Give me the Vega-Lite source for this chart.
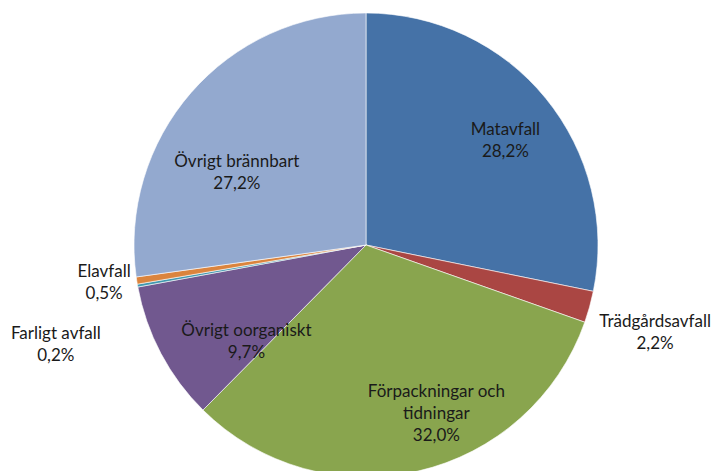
{
  "$schema": "https://vega.github.io/schema/vega-lite/v6.json",
  "width": 732,
  "height": 490,
  "autosize": {"type": "none"},
  "padding": 0,
  "background": "white",
  "config": {"view": {"stroke": null}, "text": {"font": "Lato", "fontSize": 17, "color": "#1a1a1a", "lineHeight": 22, "lineBreak": "\n"}},
  "data": {
    "values": [
      {"nr": 1, "kategori": "Matavfall", "andel": 28.2, "etikett": "Matavfall\n28,2%"},
      {"nr": 2, "kategori": "Trädgårdsavfall", "andel": 2.2, "etikett": "Trädgårdsavfall\n2,2%"},
      {"nr": 3, "kategori": "Förpackningar och tidningar", "andel": 32.0, "etikett": "Förpackningar och\ntidningar\n32,0%"},
      {"nr": 4, "kategori": "Övrigt oorganiskt", "andel": 9.7, "etikett": "Övrigt oorganiskt\n9,7%"},
      {"nr": 5, "kategori": "Farligt avfall", "andel": 0.2, "etikett": "Farligt avfall\n0,2%"},
      {"nr": 6, "kategori": "Elavfall", "andel": 0.5, "etikett": "Elavfall\n0,5%"},
      {"nr": 7, "kategori": "Övrigt brännbart", "andel": 27.2, "etikett": "Övrigt brännbart\n27,2%"}
    ]
  },
  "encoding": {
    "theta": {"field": "andel", "type": "quantitative", "stack": true},
    "order": {"field": "nr", "type": "quantitative"}
  },
  "layer": [
    {
      "mark": {"type": "arc", "outerRadius": 232, "stroke": "white", "strokeWidth": 0.6},
      "encoding": {
        "color": {
          "field": "kategori", "type": "nominal", "legend": null,
          "scale": {
            "domain": ["Matavfall", "Trädgårdsavfall", "Förpackningar och tidningar", "Övrigt oorganiskt", "Farligt avfall", "Elavfall", "Övrigt brännbart"],
            "range": ["#4572A7", "#AA4643", "#89A54E", "#71588F", "#4198AF", "#DB843D", "#93A9CF"]
          }
        }
      }
    },
    {
      "mark": {"type": "text", "radius": 180, "dy": -1},
      "encoding": {"text": {"condition": {"test": "datum.nr === 1", "field": "etikett"}, "value": ""}}
    },
    {
      "mark": {"type": "text", "radius": 300, "dy": -3},
      "encoding": {"text": {"condition": {"test": "datum.nr === 2", "field": "etikett"}, "value": ""}}
    },
    {
      "mark": {"type": "text", "radius": 180, "dx": 30, "dy": -28},
      "encoding": {"text": {"condition": {"test": "datum.nr === 3", "field": "etikett"}, "value": ""}}
    },
    {
      "mark": {"type": "text", "radius": 150, "dx": 13, "dy": 16},
      "encoding": {"text": {"condition": {"test": "datum.nr === 4", "field": "etikett"}, "value": ""}}
    },
    {
      "mark": {"type": "text", "radius": 315, "dy": 34},
      "encoding": {"text": {"condition": {"test": "datum.nr === 5", "field": "etikett"}, "value": ""}}
    },
    {
      "mark": {"type": "text", "radius": 265, "dy": -14},
      "encoding": {"text": {"condition": {"test": "datum.nr === 6", "field": "etikett"}, "value": ""}}
    },
    {
      "mark": {"type": "text", "radius": 150, "dx": -16, "dy": 15},
      "encoding": {"text": {"condition": {"test": "datum.nr === 7", "field": "etikett"}, "value": ""}}
    }
  ]
}
